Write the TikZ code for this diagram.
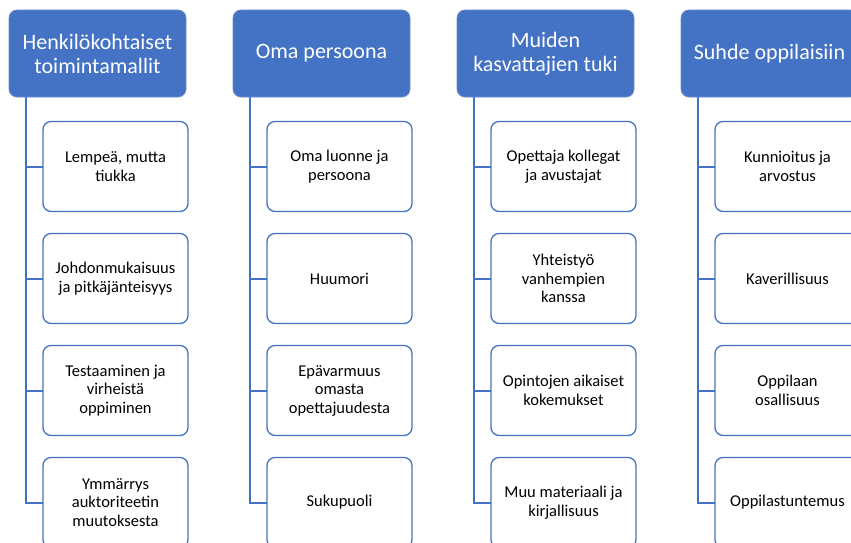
\documentclass[tikz,border=0pt]{standalone}
\usepackage{fontspec}
\setmainfont{Carlito}
\usepackage{tikz}
\usetikzlibrary{positioning}
\definecolor{ppblue}{HTML}{4472C4}

\begin{document}
\begin{tikzpicture}[x=1pt,y=1pt,
  header/.style={fill=ppblue, draw=ppblue!80!white, line width=0.8pt,
    rounded corners=8pt, minimum width=177pt, minimum height=87pt,
    text=white, align=center, inner sep=2pt, outer sep=0pt,
    font=\fontsize{22}{24}\selectfont},
  item/.style={fill=white, draw=ppblue, line width=1.3pt,
    rounded corners=8pt, minimum width=145pt, minimum height=90pt,
    align=center, inner sep=2pt, outer sep=0pt,
    font=\fontsize{16.5}{18.5}\selectfont},
  branch/.style={draw=ppblue, line width=2pt}]
  \def\colgap{224}
  \useasboundingbox (0,0) rectangle (851,-543);
  \clip (0,0) rectangle (851,-543);
  \foreach \c/\title/\ta/\tb/\tc/\td in {
     1/{Henkilökohtaiset\\toimintamallit}/{Lempeä, mutta\\tiukka}/{Johdonmukaisuus\\ja pitkäjänteisyys}/{Testaaminen ja\\virheistä\\oppiminen}/{Ymmärrys\\auktoriteetin\\muutoksesta},
     2/{Oma persoona}/{Oma luonne ja\\persoona}/{Huumori}/{Epävarmuus\\omasta\\opettajuudesta}/{Sukupuoli},
     3/{Muiden\\kasvattajien tuki}/{Opettaja kollegat\\ja avustajat}/{Yhteistyö\\vanhempien\\kanssa}/{Opintojen aikaiset\\kokemukset}/{Muu materiaali ja\\kirjallisuus},
     4/{Suhde oppilaisiin}/{Kunnioitus ja\\arvostus}/{Kaverillisuus}/{Oppilaan\\osallisuus}/{Oppilastuntemus}}
  {
    \node[header] (h\c) at ({97.5+(\c-1)*\colgap},-53.5) {\title};
    \node[item, below right=24.5pt and 34pt of h\c.south west] (c\c-1) {\ta};
    \node[item, below=22pt of c\c-1] (c\c-2) {\tb};
    \node[item, below=22pt of c\c-2] (c\c-3) {\tc};
    \node[item, below=22pt of c\c-3] (c\c-4) {\td};
    % tree lines from the header down to each item
    \foreach \k in {1,...,4}
      \draw[branch] ([xshift=17pt]h\c.south west) |- (c\c-\k.west);
  }
\end{tikzpicture}
\end{document}
